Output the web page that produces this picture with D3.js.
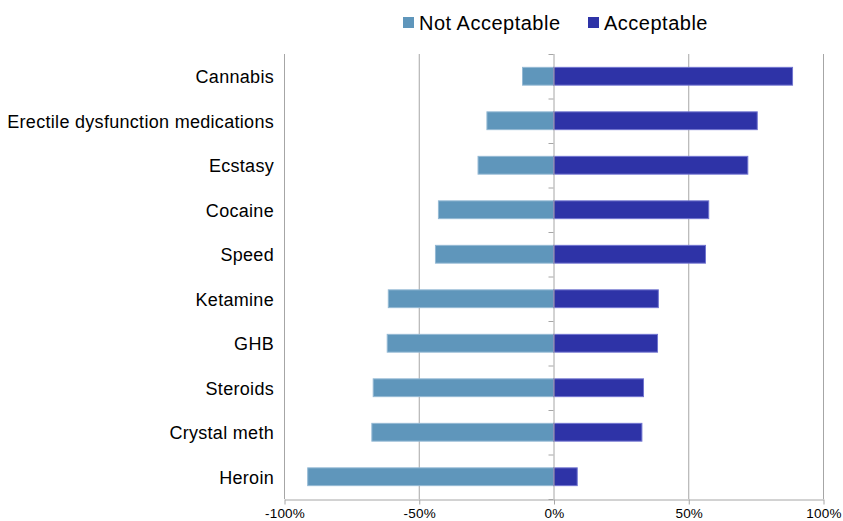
<!DOCTYPE html>
<html>
<head>
<meta charset="utf-8">
<script src="https://cdn.jsdelivr.net/npm/d3@7"></script>
<style>
  body { margin: 0; background: #fff; }
  text { font-family: "Liberation Sans", Arial, sans-serif; }
</style>
</head>
<body>
<div id="frame"></div>
<script>
const width = 843
const height = 521
const margin = { top: 54, right: 20, bottom: 22, left: 284 }

// values, in percent
const drugs = ['Cannabis', 'Erectile dysfunction medications', 'Ecstasy', 'Cocaine', 'Speed',
  'Ketamine', 'GHB', 'Steroids', 'Crystal meth', 'Heroin']
const notAcceptable = [11.5, 24.7, 28, 42.7, 43.8, 61.3, 61.7, 66.9, 67.4, 91.2]
const acceptable = [88.7, 75.6, 72.1, 57.6, 56.4, 38.9, 38.6, 33.4, 32.8, 8.8]
const ticks = [-100, -50, 0, 50, 100]

const style = {
  notAcc: { fill: '#5f96bb', stroke: '#94b9d4' },
  acc: { fill: '#2e33a7', stroke: '#7074cf' },
  grid: '#a6a6a6'
}

const svg = d3.select('#frame').append('svg')
  .attr('width', width)
  .attr('height', height)

const x = d3.scaleLinear()
  .domain([-100, 100])
  .range([margin.left, 823])

const y = d3.scaleBand()
  .domain(drugs)
  .range([margin.top, 499])
  .paddingInner(0.6)
  .paddingOuter(0.3)

const yb = d3.scaleBand().domain(drugs).range([margin.top, 499])

// gridlines
svg.append('g')
  .selectAll('line')
  .data(ticks.filter(t => t !== 0))
  .join('line')
  .attr('x1', d => x(d) + 0.5)
  .attr('x2', d => x(d) + 0.5)
  .attr('y1', margin.top)
  .attr('y2', 499)
  .attr('stroke', style.grid)
  .attr('stroke-width', 1)

const rows = drugs.map((d, i) => ({ name: d, no: notAcceptable[i], yes: acceptable[i] }))

svg.append('g')
  .selectAll('rect')
  .data(rows)
  .join('rect')
  .attr('x', d => x(-d.no))
  .attr('width', d => x(0) - x(-d.no))
  .attr('y', d => y(d.name))
  .attr('height', y.bandwidth())
  .attr('fill', style.notAcc.fill)
  .attr('stroke', style.notAcc.stroke)
  .attr('stroke-width', 1)

svg.append('g')
  .selectAll('rect')
  .data(rows)
  .join('rect')
  .attr('x', x(0))
  .attr('width', d => x(d.yes) - x(0))
  .attr('y', d => y(d.name))
  .attr('height', y.bandwidth())
  .attr('fill', style.acc.fill)
  .attr('stroke', style.acc.stroke)
  .attr('stroke-width', 1)

// zero axis with category ticks
const zero = svg.append('g')
zero.append('line')
  .attr('x1', x(0) + 0.5).attr('x2', x(0) + 0.5)
  .attr('y1', margin.top).attr('y2', 499)
  .attr('stroke', style.grid)
zero.selectAll('line.tick')
  .data(drugs.concat(['end']))
  .join('line')
  .attr('class', 'tick')
  .attr('x1', x(0) - 5).attr('x2', x(0))
  .attr('y1', (d, i) => i < drugs.length ? yb(d) + 0.5 : 499.5)
  .attr('y2', (d, i) => i < drugs.length ? yb(d) + 0.5 : 499.5)
  .attr('stroke', style.grid)

// category labels
svg.append('g')
  .selectAll('text')
  .data(drugs)
  .join('text')
  .attr('x', 274)
  .attr('y', d => yb(d) + yb.bandwidth() / 2 + 7)
  .attr('text-anchor', 'end')
  .attr('font-size', 18)
  .attr('letter-spacing', 0.3)
  .attr('fill', '#000')
  .text(d => d)

// bottom axis
const xAxis = d3.axisBottom(x)
  .tickValues(ticks)
  .tickFormat(d => d + '%')
  .tickSize(5)
  .tickSizeOuter(0)

const gx = svg.append('g')
  .attr('transform', 'translate(0.5,499.5)')
  .call(xAxis)
gx.select('.domain').attr('stroke', style.grid)
gx.selectAll('.tick line').attr('stroke', style.grid)
gx.selectAll('.tick text')
  .attr('font-size', 13.5)
  .attr('letter-spacing', 0.2)
  .attr('fill', '#000')
  .attr('dy', '0.8em')
  .style('font-family', '"Liberation Sans", Arial, sans-serif')

// legend
const legend = [
  { label: 'Not Acceptable', color: style.notAcc.fill, x: 403 },
  { label: 'Acceptable', color: style.acc.fill, x: 588 }
]
const lg = svg.append('g')
legend.forEach(l => {
  lg.append('rect')
    .attr('x', l.x).attr('y', 17)
    .attr('width', 11).attr('height', 11)
    .attr('fill', l.color)
  lg.append('text')
    .attr('x', l.x + 16).attr('y', 30)
    .attr('font-size', 20)
    .attr('letter-spacing', 0.5)
    .attr('fill', '#000')
    .text(l.label)
})
</script>
</body>
</html>
